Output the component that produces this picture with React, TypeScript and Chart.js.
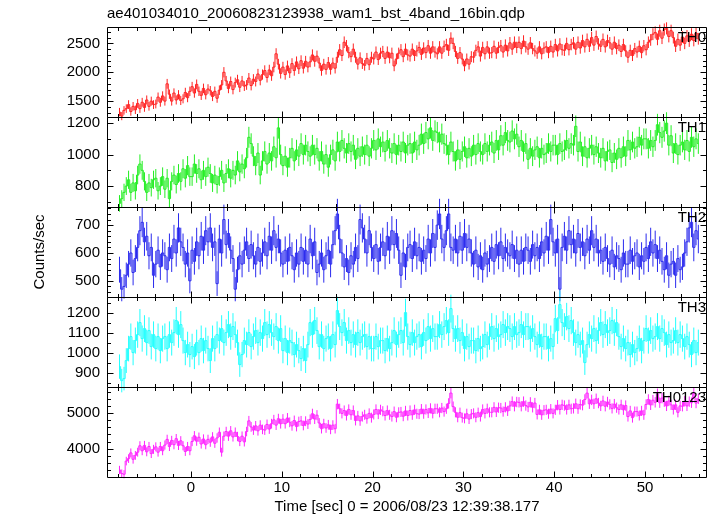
import React, { useEffect, useRef } from "react";
import { Chart, registerables } from "chart.js";

Chart.register(...registerables);

const TITLE = "ae401034010_20060823123938_wam1_bst_4band_16bin.qdp";
const X_TITLE = "Time [sec] 0 = 2006/08/23 12:39:38.177";
const Y_TITLE = "Counts/sec";
const BAND_NAMES = ["TH0", "TH1", "TH2", "TH3", "TH0123"];

// time bins: first bin start and width (seconds)
const BIN_START = -8;
const BIN_WIDTH = 0.25;

// count rates, 4 bins per second, rows of 2 seconds starting at t = -8
const TH0 = [
  1310, 1240, 1340, 1370, 1440, 1320, 1410, 1350,
  1460, 1370, 1480, 1390, 1520, 1410, 1500, 1440,
  1450, 1570, 1480, 1590, 1500, 1800, 1620, 1500,
  1640, 1520, 1610, 1510, 1540, 1650, 1560, 1670,
  1750, 1640, 1790, 1670, 1600, 1720, 1610, 1710,
  1680, 1580, 1670, 1550, 1690, 1780, 2000, 1850,
  1720, 1840, 1700, 1820, 1870, 1740, 1850, 1760,
  1780, 1900, 1770, 1880, 1840, 1970, 1860, 1960,
  2030, 1910, 2040, 1940, 2090, 2320, 2140, 1980,
  2090, 1960, 2110, 1990, 2150, 2030, 2180, 2060,
  2200, 2070, 2190, 2090, 2180, 2300, 2190, 2280,
  2160, 2030, 2140, 2050, 2170, 2050, 2160, 2070,
  2260, 2390, 2290, 2520, 2460, 2340, 2270, 2400,
  2260, 2140, 2250, 2150, 2120, 2240, 2130, 2260,
  2230, 2350, 2220, 2330, 2360, 2240, 2350, 2250,
  2330, 2110, 2230, 2330, 2390, 2270, 2400, 2300,
  2280, 2400, 2290, 2370, 2430, 2310, 2420, 2340,
  2460, 2330, 2440, 2350, 2320, 2440, 2330, 2450,
  2480, 2380, 2590, 2500, 2360, 2240, 2340, 2230,
  2110, 2230, 2140, 2270, 2260, 2380, 2440, 2280,
  2430, 2320, 2440, 2330, 2340, 2450, 2330, 2430,
  2460, 2350, 2470, 2370, 2510, 2400, 2520, 2430,
  2520, 2410, 2540, 2440, 2400, 2510, 2410, 2370,
  2330, 2440, 2320, 2420, 2440, 2340, 2450, 2350,
  2480, 2370, 2490, 2390, 2380, 2500, 2390, 2480,
  2510, 2400, 2520, 2420, 2550, 2440, 2570, 2450,
  2600, 2470, 2620, 2490, 2450, 2570, 2440, 2550,
  2510, 2400, 2520, 2410, 2470, 2360, 2480, 2370,
  2260, 2380, 2290, 2410, 2350, 2450, 2340, 2460,
  2390, 2520, 2560, 2660, 2690, 2570, 2720, 2590,
  2740, 2760, 2620, 2720, 2600, 2450, 2570, 2470,
  2610, 2500, 2630, 2540, 2660, 2550, 2680, 2580,
];

const TH1 = [
  690, 720, 760, 800, 840, 760, 820, 770,
  870, 940, 900, 830, 760, 820, 790, 840,
  850, 770, 800, 860, 780, 850, 720, 830,
  870, 810, 880, 830, 910, 850, 930, 860,
  860, 940, 880, 910, 840, 900, 860, 920,
  880, 820, 870, 810, 860, 900, 820, 880,
  910, 850, 900, 870, 960, 890, 940, 910,
  980, 1110, 1070, 990, 930, 1010, 870, 960,
  1020, 940, 1010, 960, 1050, 980, 1170, 1000,
  930, 990, 920, 980, 1040, 960, 1030, 990,
  1070, 1000, 1060, 1020, 990, 1060, 1000, 1040,
  960, 1020, 940, 1000, 920, 1000, 1030, 960,
  1080, 1020, 1090, 1040, 1010, 1070, 1020, 1060,
  970, 1040, 990, 1050, 1000, 1060, 990, 1040,
  1090, 1030, 1100, 1050, 1080, 1020, 1090, 1040,
  1010, 1070, 1000, 1060, 1020, 1080, 1010, 1060,
  1070, 1010, 1080, 1030, 1060, 1130, 1070, 1140,
  1100, 1170, 1090, 1150, 1140, 1080, 1130, 1070,
  1060, 1000, 1080, 1020, 960, 1030, 970, 1020,
  1050, 980, 1040, 990, 1060, 1000, 1070, 1020,
  1000, 1070, 1020, 1060, 1080, 1010, 1090, 1030,
  1120, 1060, 1140, 1090, 1080, 1150, 1100, 1130,
  1050, 1090, 1020, 1070, 970, 1040, 990, 1030,
  1050, 980, 1040, 1000, 1010, 1070, 1020, 1060,
  1060, 1000, 1070, 1020, 1030, 1090, 1040, 1070,
  1060, 1180, 1020, 1080, 990, 1050, 980, 1040,
  1060, 1000, 1050, 1010, 980, 1040, 960, 1020,
  1030, 950, 1010, 970, 1040, 980, 1050, 990,
  1090, 1030, 1080, 1040, 1050, 1110, 1060, 1100,
  1100, 1040, 1090, 1050, 1090, 1190, 1140, 1110,
  1150, 1200, 1060, 1120, 1010, 1070, 1000, 1060,
  1080, 1030, 1090, 1020, 1110, 1050, 1100, 1070,
];

const TH2 = [
  540, 470, 480, 520, 560, 600, 530, 580,
  620, 680, 710, 640, 660, 590, 620, 520,
  560, 610, 550, 600, 590, 540, 620, 580,
  650, 600, 690, 640, 620, 560, 600, 500,
  610, 570, 640, 590, 660, 610, 680, 640,
  690, 620, 640, 490, 650, 600, 720, 630,
  670, 610, 580, 470, 540, 590, 560, 610,
  640, 580, 630, 590, 560, 620, 570, 600,
  640, 590, 660, 610, 680, 620, 650, 600,
  560, 610, 570, 620, 590, 540, 600, 560,
  620, 570, 610, 560, 650, 590, 640, 530,
  560, 600, 540, 590, 610, 560, 630, 680,
  740, 650, 600, 550, 580, 530, 590, 560,
  620, 580, 720, 690, 650, 600, 680, 620,
  580, 630, 570, 620, 640, 590, 660, 610,
  680, 630, 670, 610, 520, 600, 550, 620,
  630, 580, 640, 590, 620, 570, 610, 580,
  650, 600, 670, 620, 700, 740, 650, 620,
  680, 740, 620, 610, 650, 600, 660, 610,
  670, 620, 650, 600, 560, 610, 550, 590,
  540, 600, 560, 580, 620, 570, 630, 590,
  640, 580, 620, 600, 590, 630, 580, 610,
  560, 610, 570, 620, 610, 570, 630, 590,
  620, 580, 640, 600, 660, 610, 720, 640,
  600, 650, 470, 620, 660, 610, 680, 630,
  650, 600, 670, 620, 640, 590, 650, 610,
  680, 620, 650, 600, 610, 570, 620, 580,
  560, 610, 550, 590, 580, 540, 600, 560,
  560, 610, 570, 590, 600, 550, 590, 570,
  620, 580, 640, 600, 630, 580, 610, 570,
  540, 590, 520, 560, 570, 520, 580, 540,
  550, 600, 640, 690, 710, 620, 680, 650,
];

const TH3 = [
  930, 860, 870, 960, 1020, 1080, 1000, 1060,
  1090, 1150, 1070, 1120, 1050, 1110, 1030, 1090,
  1020, 1080, 1010, 1070, 1080, 1020, 1090, 1050,
  1100, 1160, 1090, 1140, 1060, 1000, 1040, 990,
  1030, 980, 1050, 1000, 1070, 1010, 1060, 1020,
  960, 1070, 1020, 1090, 1060, 1120, 1050, 1100,
  1140, 1080, 1130, 1090, 1050, 940, 990, 1060,
  1040, 1100, 1030, 1080, 1110, 1050, 1100, 1070,
  1150, 1090, 1140, 1100, 1080, 1130, 1060, 1120,
  1010, 1070, 1000, 1060, 1050, 990, 1040, 1010,
  970, 1020, 960, 1040, 1150, 1090, 1160, 1110,
  1030, 1090, 1020, 1070, 1080, 1020, 1090, 1040,
  1210, 1130, 1100, 1150, 1060, 1110, 1050, 1090,
  1040, 1100, 1050, 1080, 1090, 1030, 1080, 1020,
  1020, 1080, 1030, 1060, 1060, 1010, 1070, 1020,
  1050, 1110, 1040, 1090, 1110, 1050, 1200, 1080,
  1040, 1100, 1050, 1080, 1090, 1030, 1100, 1060,
  1130, 1070, 1120, 1080, 1080, 1140, 1090, 1130,
  1160, 1100, 1220, 1120, 1070, 1120, 1060, 1100,
  1020, 1080, 1030, 1060, 1060, 1010, 1070, 1020,
  1030, 1090, 1040, 1080, 1130, 1070, 1120, 1080,
  1090, 1140, 1100, 1130, 1120, 1080, 1130, 1090,
  1100, 1140, 1090, 1130, 1130, 1070, 1120, 1080,
  1040, 1090, 1030, 1080, 1080, 1020, 1070, 1030,
  1170, 1110, 1240, 1150, 1130, 1180, 1120, 1160,
  1100, 1050, 1090, 1040, 1060, 950, 1040, 1090,
  1070, 1120, 1060, 1110, 1150, 1090, 1140, 1100,
  1110, 1160, 1100, 1150, 1080, 1030, 1070, 1020,
  1050, 990, 1040, 1000, 1020, 1070, 1010, 1060,
  1120, 1060, 1110, 1070, 1080, 1130, 1070, 1120,
  1100, 1040, 1090, 1050, 1060, 1110, 1050, 1090,
  1070, 1030, 1080, 1040, 990, 1060, 1000, 1050,
];

const TH0123 = [
  3400, 3300, 3280, 3650, 3720, 3880, 3700, 3810,
  3900, 4080, 3940, 4090, 3910, 4060, 3860, 3980,
  4050, 3900, 4060, 3940, 4100, 4260, 4060, 4230,
  4110, 4280, 4090, 4220, 4080, 3920, 4060, 3940,
  4200, 4360, 4210, 4320, 4130, 4270, 4110, 4260,
  4180, 4330, 4150, 4300, 4460, 3900, 4350, 4480,
  4350, 4500, 4330, 4460, 4340, 4200, 4350, 4190,
  4480, 4780, 4610, 4520, 4640, 4500, 4660, 4540,
  4520, 4680, 4550, 4700, 4810, 4660, 4840, 4700,
  4830, 4700, 4860, 4740, 4640, 4790, 4620, 4760,
  4780, 4650, 4770, 4690, 4820, 4980, 4830, 4940,
  4720, 4560, 4700, 4580, 4670, 4540, 4660, 4560,
  5250, 5120, 4990, 5070, 4930, 5100, 4950, 5070,
  4790, 4920, 4780, 4900, 4950, 4840, 4990, 4870,
  4960, 5100, 4970, 5090, 5050, 4930, 5070, 4950,
  4900, 5040, 4880, 5020, 5030, 4910, 5060, 4930,
  5070, 4950, 5090, 4980, 4970, 5110, 4980, 5100,
  5000, 5130, 4990, 5120, 5120, 5020, 5140, 5040,
  5120, 5270, 5560, 5180, 5020, 4880, 5010, 4870,
  4850, 4980, 4830, 4970, 4990, 4880, 5010, 4900,
  5100, 4990, 5120, 5020, 5020, 5160, 5030, 5150,
  5140, 5040, 5160, 5060, 5200, 5320, 5190, 5310,
  5300, 5190, 5320, 5210, 5170, 5300, 5160, 5280,
  4960, 5090, 4950, 5080, 5090, 4980, 5110, 4990,
  5090, 5220, 5100, 5230, 5210, 5100, 5230, 5120,
  5130, 5260, 5120, 5240, 5220, 5380, 5560, 5260,
  5370, 5260, 5400, 5280, 5200, 5340, 5190, 5310,
  5240, 5130, 5250, 5150, 5100, 5230, 5090, 5210,
  4900, 5060, 4870, 5040, 5040, 4930, 5060, 4950,
  5240, 5380, 5230, 5360, 5300, 5540, 5290, 5420,
  5320, 5200, 5340, 5230, 5100, 5230, 5020, 5200,
  5190, 5330, 5200, 5320, 5290, 5560, 5280, 5400,
];

const SERIES = [TH0, TH1, TH2, TH3, TH0123];
const COLORS = ["#ff2020", "#22ee22", "#2a2aee", "#22ffff", "#ff22ff"];

const X_MIN = -9.25;
const X_MAX = 56.83;
const X_MAJOR = 10;
const X_MINOR = 2;
const Y_MIN = [1225, 667, 442, 828, 3203];
const Y_MAX = [2784, 1239, 765, 1278, 5731];
const Y_MAJOR = [500, 200, 100, 100, 1000];
const Y_MINOR = [100, 100, 20, 50, 200];

const FONT = '"Liberation Sans", Arial, Helvetica, sans-serif';

const qdpPlugin = {
  id: "qdp",
  beforeDatasetsDraw(chart: any) {
    const ctx = chart.ctx;
    const xs = chart.scales.x;
    const ca = chart.chartArea;
    ctx.save();
    ctx.beginPath();
    ctx.rect(ca.left, 0, ca.right - ca.left, chart.height);
    ctx.clip();
    chart.data.datasets.forEach((ds: any, i: number) => {
      const ys = chart.scales["y" + i];
      ctx.strokeStyle = ds.borderColor;
      ctx.lineWidth = 1;
      ctx.beginPath();
      ds.data.forEach((p: any) => {
        const err = Math.sqrt(p.y / BIN_WIDTH); // Poisson error of the rate
        const x = xs.getPixelForValue(p.x);
        ctx.moveTo(x, ys.getPixelForValue(p.y - err));
        ctx.lineTo(x, ys.getPixelForValue(p.y + err));
      });
      ctx.stroke();
    });
    ctx.restore();
  },
  afterDraw(chart: any) {
    const ctx = chart.ctx;
    const xs = chart.scales.x;
    const ca = chart.chartArea;
    const left = Math.round(ca.left) + 0.5;
    const right = Math.round(ca.right) - 0.5;
    ctx.save();
    ctx.strokeStyle = "#000";
    ctx.lineWidth = 1;
    for (let i = 0; i < SERIES.length; i++) {
      const ys = chart.scales["y" + i];
      const top = Math.round(ys.top) + 0.5;
      const bottom = Math.round(ys.bottom) + 0.5;
      ctx.beginPath();
      ctx.rect(left, top, right - left, bottom - top);
      const t0 = Math.ceil(X_MIN / X_MINOR) * X_MINOR;
      for (let t = t0; t <= X_MAX; t += X_MINOR) {
        const px = Math.round(xs.getPixelForValue(t)) + 0.5;
        const len = t % X_MAJOR === 0 ? 6 : 3.5;
        ctx.moveTo(px, top);
        ctx.lineTo(px, top + len);
        ctx.moveTo(px, bottom);
        ctx.lineTo(px, bottom - len);
      }
      const v0 = Math.ceil(Y_MIN[i] / Y_MINOR[i]) * Y_MINOR[i];
      for (let v = v0; v <= Y_MAX[i]; v += Y_MINOR[i]) {
        const py = Math.round(ys.getPixelForValue(v)) + 0.5;
        const len = v % Y_MAJOR[i] === 0 ? 6 : 3.5;
        ctx.moveTo(left, py);
        ctx.lineTo(left + len, py);
        ctx.moveTo(right, py);
        ctx.lineTo(right - len, py);
      }
      ctx.stroke();
      ctx.fillStyle = "#000";
      ctx.font = "15px " + FONT;
      ctx.textAlign = "right";
      ctx.textBaseline = "top";
      ctx.fillText(BAND_NAMES[i], ca.right - 1, ys.top + 3);
    }
    ctx.fillStyle = "#000";
    ctx.font = "15px " + FONT;
    ctx.textAlign = "left";
    ctx.textBaseline = "alphabetic";
    ctx.fillText(TITLE, ca.left, 18);
    ctx.textAlign = "center";
    ctx.textBaseline = "middle";
    ctx.fillText(X_TITLE, (ca.left + ca.right) / 2, 507);
    ctx.translate(40, (ca.top + ca.bottom) / 2);
    ctx.rotate(-Math.PI / 2);
    ctx.fillText(Y_TITLE, 0, 0);
    ctx.restore();
  },
};

function majorTicks(min: number, max: number, step: number) {
  const out: { value: number }[] = [];
  for (let v = Math.ceil(min / step) * step; v <= max; v += step) out.push({ value: v });
  return out;
}

export default function App() {
  const ref = useRef<HTMLCanvasElement | null>(null);
  useEffect(() => {
    if (!ref.current) return;
    const datasets = SERIES.map((vals, i) => ({
      label: BAND_NAMES[i],
      data: vals.map((v, k) => ({ x: BIN_START + BIN_WIDTH * (k + 0.5), y: v })),
      borderColor: COLORS[i],
      backgroundColor: COLORS[i],
      borderWidth: 1,
      pointRadius: 0,
      stepped: "middle" as const,
      fill: false,
      yAxisID: "y" + i,
    }));
    const scales: any = {
      x: {
        type: "linear",
        min: X_MIN,
        max: X_MAX,
        grid: { display: false, drawTicks: false },
        border: { display: false },
        ticks: {
          padding: 2,
          color: "#000",
          font: { family: FONT, size: 15 },
          maxRotation: 0,
          autoSkip: false,
          callback: (v: any) => String(v),
        },
        afterBuildTicks: (s: any) => {
          s.ticks = majorTicks(X_MIN, X_MAX, X_MAJOR);
        },
        afterFit: (s: any) => {
          s.height = 39;
        },
      },
    };
    for (let i = SERIES.length - 1; i >= 0; i--) {
      scales["y" + i] = {
        type: "linear",
        position: "left",
        stack: "panels",
        stackWeight: 1,
        min: Y_MIN[i],
        max: Y_MAX[i],
        grid: { display: false, drawTicks: false },
        border: { display: false },
        ticks: {
          padding: 7,
          color: "#000",
          autoSkip: false,
          font: { family: FONT, size: 15 },
          callback: (v: any) => String(v),
        },
        afterBuildTicks: (s: any) => {
          s.ticks = majorTicks(Y_MIN[i], Y_MAX[i], Y_MAJOR[i]);
        },
        afterFit: (s: any) => {
          s.width = 107;
        },
      };
    }
    const chart = new Chart(ref.current, {
      type: "line",
      data: { datasets },
      options: {
        animation: false,
        responsive: false,
        devicePixelRatio: 1,
        layout: { padding: { left: 0, right: 10, top: 27, bottom: 0 } },
        plugins: { legend: { display: false }, tooltip: { enabled: false }, title: { display: false } },
        scales,
      },
      plugins: [qdpPlugin],
    });
    return () => chart.destroy();
  }, []);
  return (
    <div style={{ position: "absolute", left: 0, top: 0, width: 717, height: 516, background: "#fff" }}>
      <canvas ref={ref} width={717} height={516} style={{ width: 717, height: 516 }} />
    </div>
  );
}
